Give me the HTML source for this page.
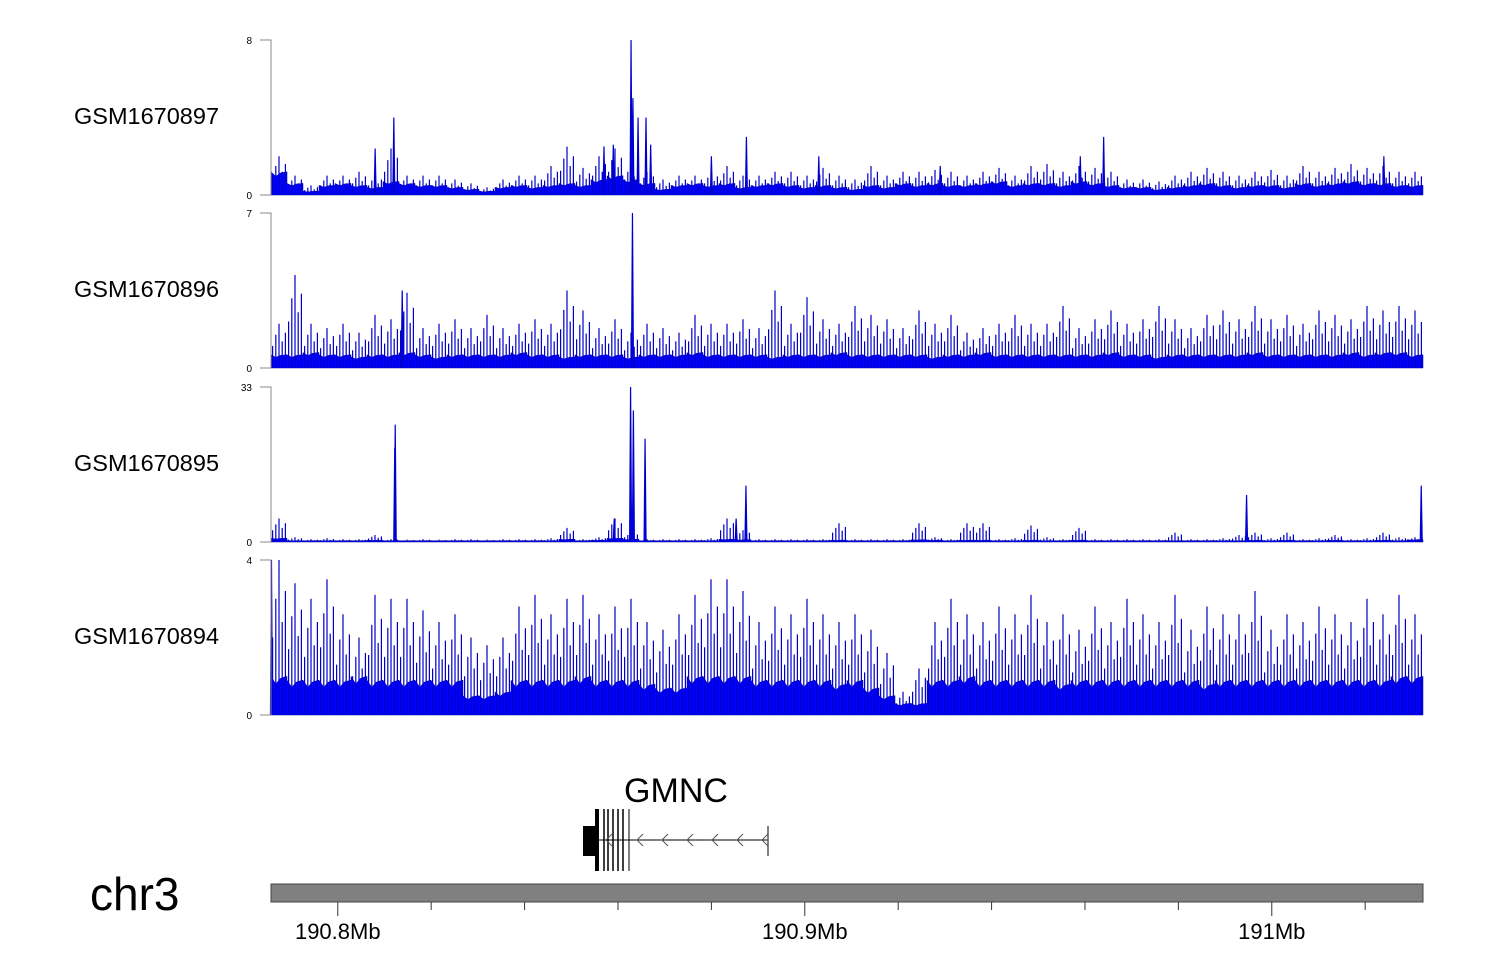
<!DOCTYPE html>
<html><head><meta charset="utf-8"><style>
body{margin:0;background:#fff}
svg{display:block;font-family:"Liberation Sans",sans-serif}
</style></head><body>
<svg id="c" width="1500" height="980"></svg>
<script>
const trackNames=["GSM1670897","GSM1670896","GSM1670895","GSM1670894"];
const trackMax=[8,7,33,4];
// background level per 16px bin (72 bins)
const base1=[1.2,0.6,0.2,0.5,0.6,0.5,0.4,0.7,0.6,0.5,0.5,0.4,0.3,0.2,0.4,0.5,0.4,0.5,0.6,0.5,0.8,1.0,0.8,0.6,0.3,0.5,0.6,0.5,0.6,0.4,0.5,0.6,0.5,0.4,0.5,0.4,0.3,0.5,0.4,0.6,0.5,0.6,0.5,0.5,0.6,0.7,0.5,0.6,0.6,0.5,0.7,0.6,0.5,0.4,0.4,0.3,0.4,0.5,0.6,0.5,0.4,0.5,0.5,0.4,0.6,0.5,0.6,0.7,0.6,0.6,0.5,0.5];
const spikes1=[2,1,0.5,1,1,1.2,1,2.4,1,1,1,0.8,0.6,0.4,0.8,1,1,1.5,2.5,1.4,2,2.4,1.6,1.2,0.8,1,1,1.2,1.5,1,1,1.2,1.2,1,1.4,1,0.8,1.5,1,1.2,1.2,1.3,1.2,1,1.2,1.4,1,1.5,1.6,1.2,1.5,1.4,1.2,0.8,0.8,0.7,1,1.2,1.4,1.2,1,1.2,1.3,1,1.5,1.2,1.4,1.6,1.4,1.5,1.2,1.2];
const base2=[0.6,0.6,0.7,0.6,0.6,0.5,0.6,0.6,0.7,0.6,0.5,0.6,0.6,0.6,0.6,0.7,0.6,0.6,0.5,0.6,0.6,0.6,0.5,0.6,0.6,0.6,0.7,0.6,0.6,0.6,0.6,0.5,0.6,0.6,0.6,0.7,0.6,0.6,0.6,0.6,0.6,0.5,0.6,0.6,0.7,0.6,0.6,0.6,0.6,0.6,0.6,0.6,0.7,0.6,0.6,0.5,0.6,0.6,0.6,0.6,0.6,0.7,0.6,0.6,0.6,0.6,0.6,0.7,0.6,0.7,0.7,0.6];
const spikes2=[2,4.2,2,1.8,2,1.6,2.4,2.2,3.4,1.8,2,2.2,1.8,2.4,1.8,2,2.2,2,3.5,2.6,1.8,2.2,1.6,2,1.8,1.6,2.4,2,2,2.2,1.8,3.5,2,3.2,2.2,2,2.8,2.4,2.2,1.8,2.6,2,2.4,1.6,1.8,2,2.4,2,2,2.8,1.8,2.2,2.6,2,2.2,2.8,2.2,1.8,2.4,2.6,2.2,2.8,2.2,2.4,2,2.6,2.4,2.2,2.8,2.6,2.8,2.6];
const base3=[0.8,0.3,0.3,0.3,0.3,0.3,0.4,0.3,0.3,0.3,0.3,0.3,0.3,0.3,0.3,0.3,0.3,0.3,0.6,0.3,0.4,0.8,0.6,0.3,0.3,0.3,0.3,0.3,0.6,0.5,0.3,0.3,0.3,0.3,0.3,0.4,0.3,0.3,0.3,0.3,0.5,0.4,0.3,0.4,0.4,0.3,0.3,0.4,0.3,0.3,0.4,0.3,0.3,0.3,0.3,0.3,0.3,0.3,0.3,0.3,0.3,0.4,0.3,0.4,0.3,0.3,0.4,0.3,0.3,0.4,0.3,0.5];
const spikes3=[5,1,0.6,0.8,0.6,0.6,1.5,0.6,0.5,0.6,0.5,0.6,0.6,0.5,0.6,0.6,0.6,0.8,3,0.6,1,5,2,0.6,0.6,0.6,0.6,0.8,5,2.5,0.6,0.6,0.6,0.6,0.6,4,0.6,0.6,0.6,0.6,4,1,0.6,4,4,0.6,0.8,3.5,1,0.6,3,0.6,0.6,0.6,0.6,0.6,2,0.6,0.6,0.8,1.5,2,0.8,2,0.6,0.8,1.5,0.6,0.8,2,1,1];
const base4=[1,0.9,0.9,0.9,0.9,1,0.9,0.9,0.9,0.9,0.9,0.9,0.5,0.5,0.6,0.9,0.9,0.9,0.9,1,0.9,0.9,0.9,0.8,0.7,0.7,1,1,1,1,0.9,0.9,0.9,0.9,0.9,0.8,0.9,0.7,0.5,0.3,0.3,0.9,0.9,1,0.9,0.9,0.9,0.9,0.9,0.8,0.9,0.9,0.9,0.9,0.9,0.9,0.9,0.9,0.8,0.9,0.9,0.9,0.9,0.9,0.9,0.9,0.9,0.9,0.9,0.9,1,1];
const spikes4=[4,3.4,3,3.5,2.6,2,3.1,3,3,2.7,2.4,2.6,2,1.8,2,2.8,3.1,2.6,3,3.1,2.6,2.8,3,2.4,2.2,2.6,3.1,3.5,3.5,3.2,2.4,2.8,2.6,3,2.6,2.4,2.6,2.2,1.6,0.6,1.2,2.4,3,2.6,2.4,2.8,2.6,3.1,2.4,2.6,2.2,2.8,2.4,3,2.6,2.4,3.1,2.2,2.8,2.6,2.6,3.2,2.2,2.6,2.4,2.8,2.6,2.4,3,2.6,3.1,2.6];
const peaks1=[[190.812,4],[190.808,2.4],[190.857,2.5],[190.859,2.6],[190.8628,8],[190.8632,5],[190.8643,4],[190.866,4],[190.867,2.6],[190.8875,3],[190.880,2],[190.903,2],[190.929,1.5],[190.959,2],[190.964,3],[191.024,2]];
const peaks2=[[190.8631,7],[190.8138,3.5]];
const peaks3=[[190.8627,33],[190.8633,28],[190.8658,22],[190.8123,25],[190.8122,20],[190.8874,12],[190.8853,5],[190.9946,10],[191.032,12],[190.8592,5]];
const peaks4=[[190.7858,4]];
const allBase=[base1,base2,base3,base4],allSp=[spikes1,spikes2,spikes3,spikes4],allPk=[peaks1,peaks2,peaks3,peaks4];
const trackTop=[40,213,387,560],trackH=155;
const mbTicks=[190.8,190.9,191.0],mbLabels=["190.8Mb","190.9Mb","191Mb"];
const minorTicks=[190.82,190.84,190.86,190.88,190.92,190.94,190.96,190.98,191.02];
const X0=271,X1=1423,MB0=190.7857,PXMB=4670;
const xs=mb=>X0+(mb-MB0)*PXMB;
const NS="http://www.w3.org/2000/svg",svg=document.getElementById('c');
function el(t,a,p){const e=document.createElementNS(NS,t);for(const k in a)e.setAttribute(k,a[k]);(p||svg).appendChild(e);return e;}
trackNames.forEach((nm,i)=>{
  const g=el('g',{});
  
  
  const top=trackTop[i],bot=top+trackH,ys=v=>bot-v/trackMax[i]*trackH;
  const bw=(X1-X0)/allBase[i].length;
  let d='M'+X0+' '+bot;
  allBase[i].forEach((v,j)=>{const a=X0+j*bw;d+=' L'+a+' '+ys(v)+' L'+(a+bw*0.3)+' '+ys(v*0.8)+' L'+(a+bw*0.6)+' '+ys(v*0.95)+' L'+(a+bw)+' '+ys(v);});
  d+=' L'+X1+' '+bot+' Z';
  const ar=el('path',{d:d,fill:'#0000ff',stroke:'#00008b','stroke-width':0.5},g);
  
  
  let sd='';
  const offs=[[0.1,0.5],[0.3,0.75],[0.5,1],[0.7,0.6],[0.9,0.8]];
  allSp[i].forEach((v,j)=>{const a=X0+j*bw;offs.forEach(o=>{sd+='M'+(a+bw*o[0])+' '+bot+' V'+ys(v*o[1])+' ';});});
  allPk[i].forEach(p=>{const x=xs(p[0]);sd+='M'+(x-1)+' '+bot+' L'+x+' '+ys(p[1])+' L'+(x+1)+' '+bot+' ';});
  const sp=el('path',{d:sd,stroke:'#0000cd','stroke-width':1.2,fill:'#0000ff'},g);
  
  
  el('path',{d:`M260 ${top} H271 V${bot} H260`,stroke:'#888',fill:'none','stroke-width':1},g);
  const t1=el('text',{x:252,y:top+4,'font-size':10,'text-anchor':'end'},g);t1.textContent=trackMax[i];
  
  const t0=el('text',{x:252,y:bot+4,'font-size':10,'text-anchor':'end'},g);t0.textContent='0';
  
  const tl=el('text',{x:74,y:top+84,'font-size':23.5},g);tl.textContent=nm;
  
});
// gene
const gg=el('g',{});


const gt=el('text',{x:676,y:802,'font-size':34,'text-anchor':'middle'},gg);gt.textContent='GMNC';
el('line',{x1:597,y1:840,x2:768,y2:840,stroke:'#000','stroke-width':1},gg);
el('rect',{x:583,y:826,width:14,height:30,fill:'#000'},gg);
el('rect',{x:595,y:809,width:4,height:62,fill:'#000'},gg);
[604,608,613,618,623,629].forEach(x=>el('line',{x1:x,y1:809,x2:x,y2:871,stroke:'#000','stroke-width':x==629?1:1.5},gg));
el('line',{x1:768,y1:826,x2:768,y2:856,stroke:'#555','stroke-width':1.5},gg);
[606,637,662,687,712,737,762].forEach(x=>el('path',{d:`M${x+6} 834 L${x} 840 L${x+6} 846`,stroke:'#555',fill:'none'},gg));
// chromosome axis
const ax=el('g',{});


el('rect',{x:271,y:884,width:1152,height:18,fill:'#808080',stroke:'#444','stroke-width':1},ax);
minorTicks.forEach(m=>el('line',{x1:xs(m),y1:902,x2:xs(m),y2:910,stroke:'#333'},ax));
mbTicks.forEach((m,i)=>{el('line',{x1:xs(m),y1:902,x2:xs(m),y2:916,stroke:'#333'},ax);
  const t=el('text',{x:xs(m),y:939,'font-size':22,'text-anchor':'middle'},ax);t.textContent=mbLabels[i];
  });
const ch=el('text',{x:90,y:910,'font-size':46},ax);ch.textContent='chr3';

</script>
</body></html>
